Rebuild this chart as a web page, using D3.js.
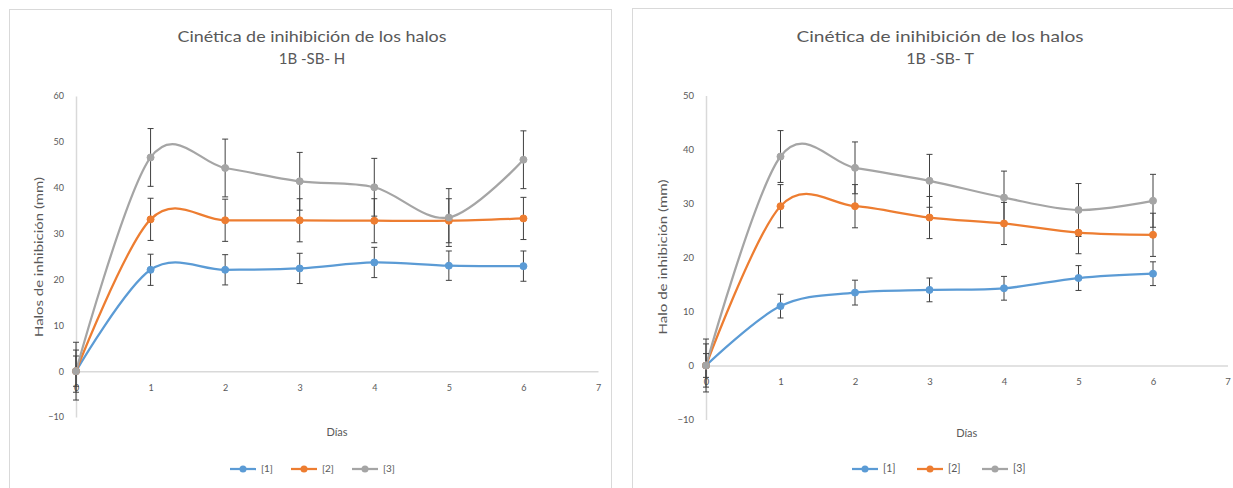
<!DOCTYPE html>
<html>
<head>
<meta charset="utf-8">
<script src="https://cdn.jsdelivr.net/npm/d3@7"></script>
<style>
  html, body { margin: 0; padding: 0; background: #fff; }
  svg { display: block; font-family: Lato, "Open Sans", sans-serif; }
</style>
</head>
<body>
<svg id="chart" width="1233" height="488"></svg>
<script>
// Days of measurement
const days = [0, 1, 2, 3, 4, 5, 6];
const seriesNames = ["[1]", "[2]", "[3]"];
const seriesColors = ["#5B9BD5", "#ED7D31", "#A5A5A5"];

// 1B -SB- H : mean halo (mm) and error per series
const hMeans1 = [0, 22.1, 22.1, 22.4, 23.7, 23.0, 22.9];
const hErr1   = [3.3, 3.4, 3.3, 3.3, 3.3, 3.2, 3.3];
const hMeans2 = [0, 33.1, 32.9, 32.9, 32.8, 32.8, 33.3];
const hErr2   = [4.6, 4.6, 4.6, 4.7, 4.8, 4.8, 4.6];
const hMeans3 = [0, 46.6, 44.3, 41.4, 40.1, 33.5, 46.1];
const hErr3   = [6.3, 6.3, 6.3, 6.3, 6.3, 6.3, 6.3];

// 1B -SB- T : mean halo (mm) and error per series
const tMeans1 = [0, 11.0, 13.5, 14.0, 14.3, 16.2, 17.0];
const tErr1   = [2.2, 2.2, 2.3, 2.2, 2.2, 2.3, 2.2];
const tMeans2 = [0, 29.5, 29.5, 27.4, 26.3, 24.6, 24.2];
const tErr2   = [4.0, 4.0, 4.0, 3.9, 3.9, 3.9, 4.0];
const tMeans3 = [0, 38.7, 36.6, 34.2, 31.1, 28.8, 30.5];
const tErr3   = [4.9, 4.8, 4.8, 4.9, 4.9, 4.9, 4.9];

// Axis ticks
const xTicks = [0, 1, 2, 3, 4, 5, 6, 7];
const hYTicks = [-10, 0, 10, 20, 30, 40, 50, 60];
const tYTicks = [-10, 0, 10, 20, 30, 40, 50];

const titleLine1 = "Cinética de inihibición de los halos";
const xTitle = "Días";

const svg = d3.select("#chart");
const textColor = "#595959";
const axisColor = "#d9d9d9";

function drawChart(cfg) {
  const g = svg.append("g");

  // chart frame
  g.append("rect")
    .attr("x", cfg.frame[0] + 0.5).attr("y", cfg.frame[1] + 0.5)
    .attr("width", cfg.frame[2]).attr("height", cfg.frame[3])
    .attr("fill", "#fff").attr("stroke", axisColor).attr("stroke-width", 1);

  const x = d3.scaleLinear().domain([0, 7]).range([cfg.plot.left, cfg.plot.right]);
  const y = d3.scaleLinear().domain(cfg.yDomain).range([cfg.plot.bottom, cfg.plot.top]);

  // titles
  g.append("text")
    .attr("x", cfg.titleX).attr("y", cfg.titleY1)
    .attr("text-anchor", "middle").attr("fill", textColor)
    .attr("font-size", cfg.titleSize)
    .attr("textLength", cfg.titleWidth).attr("lengthAdjust", "spacingAndGlyphs")
    .text(titleLine1);
  g.append("text")
    .attr("x", cfg.titleX).attr("y", cfg.titleY2)
    .attr("text-anchor", "middle").attr("fill", textColor)
    .attr("font-size", cfg.titleSize)
    .text(cfg.subtitle);

  // y axis (labels only, light vertical line)
  const yAxis = d3.axisLeft(y).tickValues(cfg.yTicks).tickSize(0).tickPadding(cfg.yPad)
    .tickFormat(d3.format("d"));
  const ya = g.append("g").attr("transform", `translate(${x(0)},0)`).call(yAxis);
  ya.select(".domain").attr("stroke", axisColor).attr("stroke-width", 1.5);
  ya.selectAll("text").attr("fill", textColor).attr("font-size", cfg.tickSize)
    .attr("font-family", "Lato, 'Open Sans', sans-serif");

  // x axis at y = 0
  const xAxis = d3.axisBottom(x).tickValues(xTicks).tickSize(0).tickPadding(cfg.xPad)
    .tickFormat(d3.format("d"));
  const xa = g.append("g").attr("transform", `translate(0,${y(0)})`).call(xAxis);
  xa.select(".domain").attr("stroke", axisColor).attr("stroke-width", 1.5);
  xa.selectAll("text").attr("fill", textColor).attr("font-size", cfg.tickSize)
    .attr("font-family", "Lato, 'Open Sans', sans-serif");

  // axis titles
  g.append("text")
    .attr("transform", `translate(${cfg.yTitleX},${cfg.yTitleY}) rotate(-90)`)
    .attr("text-anchor", "middle").attr("dominant-baseline", "middle")
    .attr("fill", textColor).attr("font-size", cfg.axisTitleSize)
    .attr("textLength", cfg.yTitleWidth).attr("lengthAdjust", "spacingAndGlyphs")
    .text(cfg.yTitle);
  g.append("text")
    .attr("x", (cfg.plot.left + cfg.plot.right) / 2).attr("y", cfg.xTitleY)
    .attr("text-anchor", "middle").attr("fill", textColor)
    .attr("font-size", cfg.axisTitleSize)
    .text(xTitle);

  const series = cfg.means.map((m, i) => ({
    name: seriesNames[i],
    color: seriesColors[i],
    points: days.map((d, j) => ({ day: d, v: m[j], e: cfg.errs[i][j] }))
  }));

  const line = d3.line()
    .x(p => x(p.day)).y(p => y(p.v))
    .curve(d3.curveCardinal.tension(0));

  series.forEach(s => {
    g.append("path").datum(s.points)
      .attr("d", line).attr("fill", "none")
      .attr("stroke", s.color).attr("stroke-width", 2.25)
      .attr("stroke-linejoin", "round").attr("stroke-linecap", "round");
  });

  // error bars
  const cap = 3;
  series.forEach(s => {
    const eb = g.append("g").attr("stroke", "#404040").attr("stroke-width", 1);
    s.points.forEach(p => {
      const cx = x(p.day), y1 = y(p.v + p.e), y2 = y(p.v - p.e);
      eb.append("line").attr("x1", cx).attr("x2", cx).attr("y1", y1).attr("y2", y2);
      eb.append("line").attr("x1", cx - cap).attr("x2", cx + cap).attr("y1", y1).attr("y2", y1);
      eb.append("line").attr("x1", cx - cap).attr("x2", cx + cap).attr("y1", y2).attr("y2", y2);
    });
  });

  // markers
  series.forEach(s => {
    g.append("g").selectAll("circle").data(s.points).join("circle")
      .attr("cx", p => x(p.day)).attr("cy", p => y(p.v)).attr("r", 3.5)
      .attr("fill", s.color).attr("stroke", s.color).attr("stroke-width", 1);
  });

  // legend
  const lg = g.append("g").attr("transform", `translate(${cfg.legendX},${cfg.legendY})`);
  series.forEach((s, i) => {
    const item = lg.append("g").attr("transform", `translate(${i * cfg.legendStep},0)`);
    item.append("line").attr("x1", 0).attr("x2", 26).attr("y1", 0).attr("y2", 0)
      .attr("stroke", s.color).attr("stroke-width", 2.25);
    item.append("circle").attr("cx", 13).attr("cy", 0).attr("r", 3.5).attr("fill", s.color);
    item.append("text").attr("x", 31).attr("y", 0).attr("dominant-baseline", "middle")
      .attr("fill", textColor).attr("font-size", cfg.tickSize + 1).text(s.name);
  });
}

drawChart({
  frame: [9, 9, 602, 490],
  plot: { left: 76, right: 598, top: 96, bottom: 417 },
  yDomain: [-10, 60],
  yTicks: hYTicks,
  subtitle: "1B -SB- H",
  titleX: 312, titleY1: 42, titleY2: 64, titleSize: 15, titleWidth: 269,
  yTitle: "Halos de inhibición (mm)", yTitleX: 40, yTitleY: 257, yTitleWidth: 160,
  xTitleY: 436, axisTitleSize: 11, tickSize: 9, yPad: 12, xPad: 13,
  means: [hMeans1, hMeans2, hMeans3], errs: [hErr1, hErr2, hErr3],
  legendX: 230, legendY: 469, legendStep: 61
});

drawChart({
  frame: [632, 8, 620, 490],
  plot: { left: 706, right: 1227.5, top: 95.5, bottom: 419.5 },
  yDomain: [-10, 50],
  yTicks: tYTicks,
  subtitle: "1B -SB- T",
  titleX: 940, titleY1: 42, titleY2: 64, titleSize: 16, titleWidth: 287,
  yTitle: "Halo de inhibición (mm)", yTitleX: 664, yTitleY: 257, yTitleWidth: 155,
  xTitleY: 437, axisTitleSize: 11, tickSize: 9.5, yPad: 12, xPad: 13,
  means: [tMeans1, tMeans2, tMeans3], errs: [tErr1, tErr2, tErr3],
  legendX: 852, legendY: 469, legendStep: 65
});
</script>
</body>
</html>
